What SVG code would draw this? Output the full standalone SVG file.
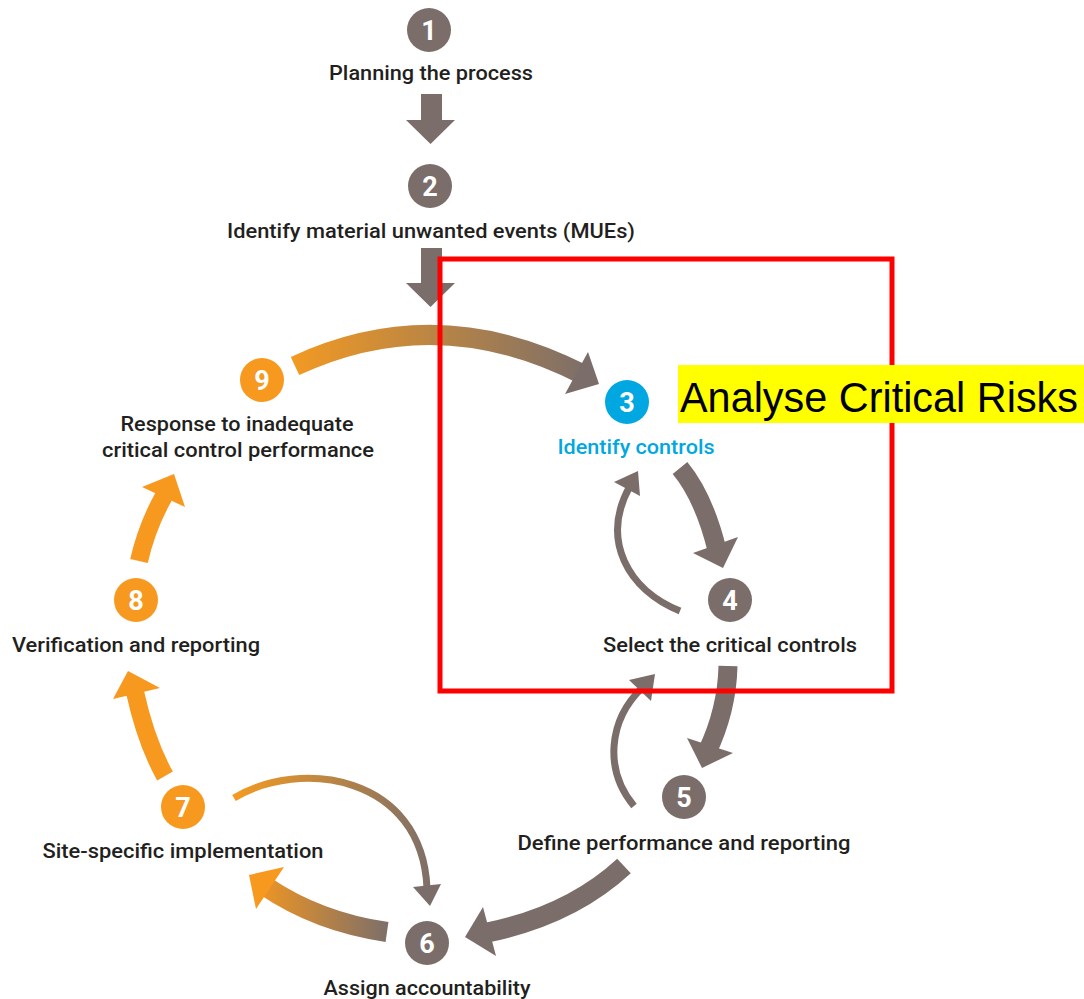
<svg xmlns="http://www.w3.org/2000/svg" width="1084" height="999" viewBox="0 0 1084 999">
  <style>
    .lbl { font-family: "Roboto", "Liberation Sans", sans-serif; font-size: 21px; font-weight: 500; fill: #231F20; text-anchor: middle; }
    .num { font-family: "Roboto", "Liberation Sans", sans-serif; font-size: 27px; font-weight: bold; fill: #FFFFFF; text-anchor: middle; }
    .gray { fill: #7B6E6A; }
    .orange { fill: #F7981F; }
    .blue { fill: #00A7E1; }
    .shaft { fill: none; stroke-linecap: butt; }
  </style>
  <defs>
    <linearGradient id="gTop" gradientUnits="userSpaceOnUse" x1="290" y1="0" x2="590" y2="0">
      <stop offset="0" stop-color="#F39A22"/>
      <stop offset="1" stop-color="#7B6E6A"/>
    </linearGradient>
    <linearGradient id="g67" gradientUnits="userSpaceOnUse" x1="250" y1="0" x2="390" y2="0">
      <stop offset="0" stop-color="#F7981F"/>
      <stop offset="1" stop-color="#7B6E6A"/>
    </linearGradient>
    <linearGradient id="g76" gradientUnits="userSpaceOnUse" x1="235" y1="0" x2="435" y2="0">
      <stop offset="0" stop-color="#F39A22"/>
      <stop offset="1" stop-color="#7B6E6A"/>
    </linearGradient>
  </defs>

  <rect width="1084" height="999" fill="#FFFFFF"/>

  <!-- connectors -->
  <g id="connectors">
    <!-- 1 -> 2 -->
    <polygon class="gray" points="421,94 442,94 442,120 455,120 430.5,144 406,120 421,120"/>
    <!-- 2 -> cycle -->
    <polygon class="gray" points="421,248 442,248 442,283 455,283 430.5,307 406,283 421,283"/>
    <!-- 9 -> 3 -->
    <path class="shaft" d="M 295 366 Q 437 300 582 374" stroke="url(#gTop)" stroke-width="20"/>
    <polygon points="588,352 599,384 565,394" fill="#7B6E6A"/>
    <!-- 3 -> 4 -->
    <path class="shaft" d="M 680 468 Q 704 497 717 550" stroke="#7B6E6A" stroke-width="19"/>
    <polygon class="gray" points="693,553 738,537 723,568"/>
    <!-- 4 -> 3 (return) -->
    <path class="shaft" d="M 680 611 C 628 590 600 540 630 486" stroke="#7B6E6A" stroke-width="7"/>
    <polygon class="gray" points="614,482 638,471 640,496"/>
    <!-- 4 -> 5 -->
    <path class="shaft" d="M 728 666 Q 727 710 707 752" stroke="#7B6E6A" stroke-width="19"/>
    <polygon class="gray" points="687,738 733,753 702,768"/>
    <!-- 5 -> 4 (return) -->
    <path class="shaft" d="M 634 806 C 604 770 608 720 643 687" stroke="#7B6E6A" stroke-width="7"/>
    <polygon class="gray" points="629,680 655,674 651,701"/>
    <!-- 5 -> 6 -->
    <path class="shaft" d="M 624 866 Q 570 916 485 933" stroke="#7B6E6A" stroke-width="20"/>
    <polygon class="gray" points="483,907 496,956 465,937"/>
    <!-- 6 -> 7 -->
    <path class="shaft" d="M 387 932 Q 318 922 265 886" stroke="url(#g67)" stroke-width="20"/>
    <polygon points="284,867 256,909 249,875" fill="#F7981F"/>
    <!-- 7 -> 6 -->
    <path class="shaft" d="M 234 798 C 300 758 422 775 427 888" stroke="url(#g76)" stroke-width="7"/>
    <polygon points="413,887 441,884 430,906" fill="#7B6E6A"/>
    <!-- 7 -> 8 -->
    <path class="shaft" d="M 165 776 Q 146 742 135 692" stroke="#F7981F" stroke-width="18"/>
    <polygon class="orange" points="113,699 160,688 128,671"/>
    <!-- 8 -> 9 -->
    <path class="shaft" d="M 139 561 Q 147 526 164 496" stroke="#F7981F" stroke-width="18"/>
    <polygon class="orange" points="142,487 185,507 174,474"/>
  </g>

  <!-- steps -->
  <g id="step1">
    <circle class="gray" cx="429" cy="30" r="22"/>
    <text class="num" x="429" y="40">1</text>
    <text class="lbl" x="431" y="80" textLength="204" lengthAdjust="spacingAndGlyphs">Planning the process</text>
  </g>
  <g id="step2">
    <circle class="gray" cx="430" cy="186" r="22"/>
    <text class="num" x="430" y="196">2</text>
    <text class="lbl" x="431" y="238" textLength="408" lengthAdjust="spacingAndGlyphs">Identify material unwanted events (MUEs)</text>
  </g>
  <g id="step3">
    <circle class="blue" cx="627" cy="402" r="22"/>
    <text class="num" x="627" y="412">3</text>
    <text class="lbl" x="636" y="454" textLength="157" lengthAdjust="spacingAndGlyphs" style="fill:#00A7E1">Identify controls</text>
  </g>
  <g id="step4">
    <circle class="gray" cx="730" cy="600" r="22"/>
    <text class="num" x="730" y="610">4</text>
    <text class="lbl" x="730" y="652" textLength="254" lengthAdjust="spacingAndGlyphs">Select the critical controls</text>
  </g>
  <g id="step5">
    <circle class="gray" cx="684" cy="797" r="22"/>
    <text class="num" x="684" y="807">5</text>
    <text class="lbl" x="684" y="850" textLength="333" lengthAdjust="spacingAndGlyphs">Define performance and reporting</text>
  </g>
  <g id="step6">
    <circle class="gray" cx="427" cy="943" r="22"/>
    <text class="num" x="427" y="953">6</text>
    <text class="lbl" x="427" y="995" textLength="207" lengthAdjust="spacingAndGlyphs">Assign accountability</text>
  </g>
  <g id="step7">
    <circle class="orange" cx="183" cy="807" r="22"/>
    <text class="num" x="183" y="817">7</text>
    <text class="lbl" x="183" y="858" textLength="281" lengthAdjust="spacingAndGlyphs">Site-specific implementation</text>
  </g>
  <g id="step8">
    <circle class="orange" cx="136" cy="600" r="22"/>
    <text class="num" x="136" y="610">8</text>
    <text class="lbl" x="136" y="652" textLength="248" lengthAdjust="spacingAndGlyphs">Verification and reporting</text>
  </g>
  <g id="step9">
    <circle class="orange" cx="262" cy="380" r="22"/>
    <text class="num" x="262" y="390">9</text>
    <text class="lbl" x="237" y="431" textLength="233" lengthAdjust="spacingAndGlyphs">Response to inadequate</text>
    <text class="lbl" x="238" y="457" textLength="272" lengthAdjust="spacingAndGlyphs">critical control performance</text>
  </g>

  <!-- highlight frame and caption -->
  <g id="focus-frame">
    <rect x="440" y="259" width="452" height="432" fill="none" stroke="#FF0000" stroke-width="5"/>
  </g>
  <g id="caption">
    <rect x="678" y="365" width="406" height="58" fill="#FFFF00"/>
    <text x="680" y="412" textLength="398" lengthAdjust="spacingAndGlyphs" style="font-family:'Liberation Sans', sans-serif; font-size:42px; fill:#000000">Analyse Critical Risks</text>
  </g>
</svg>
